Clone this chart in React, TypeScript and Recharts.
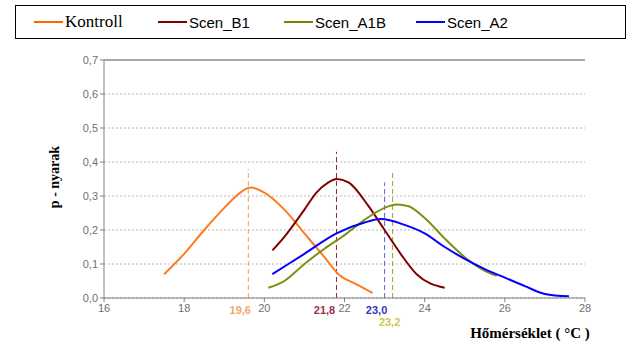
import { CartesianGrid, Line, LineChart, ReferenceDot, ReferenceLine, XAxis, YAxis } from "recharts";

const kontrollX = [17.5, 18, 18.5, 19, 19.3, 19.65, 20, 20.5, 21, 21.5, 21.85, 22.3, 22.7];
const kontrollY = [0.07, 0.13, 0.2, 0.265, 0.3, 0.325, 0.31, 0.26, 0.19, 0.12, 0.07, 0.04, 0.015];

const b1X = [20.2, 20.5, 21, 21.3, 21.6, 21.8, 22.1, 22.6, 23, 23.4, 23.8, 24.5];
const b1Y = [0.14, 0.18, 0.26, 0.31, 0.34, 0.35, 0.34, 0.27, 0.2, 0.13, 0.07, 0.03];

const a1bX = [20.1, 20.5, 21, 21.5, 22, 22.5, 23, 23.3, 23.6, 24, 24.5, 25, 25.5, 25.8];
const a1bY = [0.03, 0.05, 0.1, 0.145, 0.185, 0.23, 0.265, 0.275, 0.27, 0.235, 0.175, 0.12, 0.08, 0.065];

const a2X = [20.2, 21, 21.8, 22.5, 22.9, 23.5, 24, 24.5, 25, 25.5, 26, 26.5, 27, 27.6];
const a2Y = [0.07, 0.13, 0.19, 0.222, 0.232, 0.215, 0.19, 0.15, 0.115, 0.085, 0.06, 0.035, 0.012, 0.005];

const xTicks = [16, 18, 20, 22, 24, 26, 28];
const yTicks = [0, 0.1, 0.2, 0.3, 0.4, 0.5, 0.6, 0.7];

const means = [
  { x: 19.6, top: 0.38, label: "19,6", color: "#f5a05a", text: "#f0a868", dx: -8, dy: 13 },
  { x: 21.8, top: 0.43, label: "21,8", color: "#8a2a3a", text: "#a03048", dx: -12, dy: 13 },
  { x: 23.0, top: 0.34, label: "23,0", color: "#6060e0", text: "#3535c0", dx: -8, dy: 13 },
  { x: 23.2, top: 0.37, label: "23,2", color: "#9aa030", text: "#c8c850", dx: -3, dy: 25 },
];

const series = [
  { name: "Kontroll", color: "#ff7a1f", xs: kontrollX, ys: kontrollY },
  { name: "Scen_B1", color: "#800000", xs: b1X, ys: b1Y },
  { name: "Scen_A1B", color: "#7f8f10", xs: a1bX, ys: a1bY },
  { name: "Scen_A2", color: "#0000ff", xs: a2X, ys: a2Y },
];

const toPoints = (xs: number[], ys: number[]) => xs.map((x, i) => ({ x, y: ys[i] }));

const comma = (v: number) => v.toFixed(1).replace(".", ",");

function LegendBox() {
  const items = [
    { label: "Kontroll", color: "#ff6600", serif: true, left: 18 },
    { label: "Scen_B1", color: "#800000", serif: false, left: 142 },
    { label: "Scen_A1B", color: "#808000", serif: false, left: 268 },
    { label: "Scen_A2", color: "#0000ff", serif: false, left: 400 },
  ];
  return (
    <div
      style={{
        position: "absolute",
        left: 15,
        top: 5,
        width: 609,
        height: 32,
        border: "1px solid #000",
        background: "#fff",
      }}
    >
      {items.map((it) => (
        <div key={it.label} style={{ position: "absolute", left: it.left, top: 0, height: 32, display: "flex", alignItems: "center" }}>
          <span style={{ display: "inline-block", width: 29, height: 2, background: it.color, marginRight: 2 }} />
          <span
            style={{
              fontFamily: it.serif ? "'Liberation Serif', serif" : "'Liberation Sans', Arial, sans-serif",
              fontSize: it.serif ? 17 : 15,
              color: "#000",
            }}
          >
            {it.label}
          </span>
        </div>
      ))}
    </div>
  );
}

export default function App() {
  return (
    <div style={{ position: "absolute", left: 0, top: 0, width: 633, height: 346, background: "#fff" }}>
      <LineChart width={633} height={346} margin={{ top: 60, right: 48, bottom: 18, left: 0 }}>
        <CartesianGrid horizontal vertical={false} stroke="#b8b8b8" strokeDasharray="2 2" />
        <XAxis
          type="number"
          dataKey="x"
          domain={[16, 28]}
          ticks={xTicks}
          allowDataOverflow
          stroke="#808080"
          tick={{ fill: "#707070", fontSize: 11, fontFamily: "'Liberation Sans', Arial" }}
          tickSize={4}
        />
        <YAxis
          type="number"
          domain={[0, 0.7]}
          ticks={yTicks}
          width={104}
          stroke="#808080"
          tickFormatter={comma}
          tick={{ fill: "#707070", fontSize: 11, fontFamily: "'Liberation Sans', Arial" }}
          tickSize={4}
        />
        <ReferenceLine y={0.7} stroke="#a8a8a8" strokeWidth={2} />
        {means.map((m) => (
          <ReferenceLine
            key={m.label}
            segment={[{ x: m.x, y: 0 }, { x: m.x, y: m.top }]}
            stroke={m.color}
            strokeDasharray="5 3"
            strokeWidth={1}
          />
        ))}
        {series.map((s) => (
          <Line
            key={s.name}
            data={toPoints(s.xs, s.ys)}
            dataKey="y"
            name={s.name}
            type="monotone"
            stroke={s.color}
            strokeWidth={2}
            dot={false}
            isAnimationActive={false}
          />
        ))}
        {means.map((m) => (
          <ReferenceDot
            key={"l" + m.label}
            x={m.x}
            y={0}
            r={0}
            fill="none"
            stroke="none"
            ifOverflow="visible"
            label={(p: any) => (
              <text
                x={p.viewBox.x + p.viewBox.width / 2 + m.dx}
                y={p.viewBox.y + m.dy}
                textAnchor="middle"
                fill={m.text}
                fontSize={11}
                fontWeight="bold"
                fontFamily="'Liberation Sans', Arial"
                dominantBaseline="middle"
              >
                {m.label}
              </text>
            )}
          />
        ))}
        <text
          x={56}
          y={177}
          transform="rotate(-90 56 177)"
          textAnchor="middle"
          dominantBaseline="middle"
          fontFamily="'Liberation Serif', serif"
          fontWeight="bold"
          fontSize={14}
          fill="#000"
        >
          p - nyarak
        </text>
        <text
          x={530}
          y={335}
          textAnchor="middle"
          dominantBaseline="middle"
          fontFamily="'Liberation Serif', serif"
          fontWeight="bold"
          fontSize={15}
          fill="#000"
        >
          Hőmérséklet ( °C )
        </text>
      </LineChart>
      <LegendBox />
    </div>
  );
}
